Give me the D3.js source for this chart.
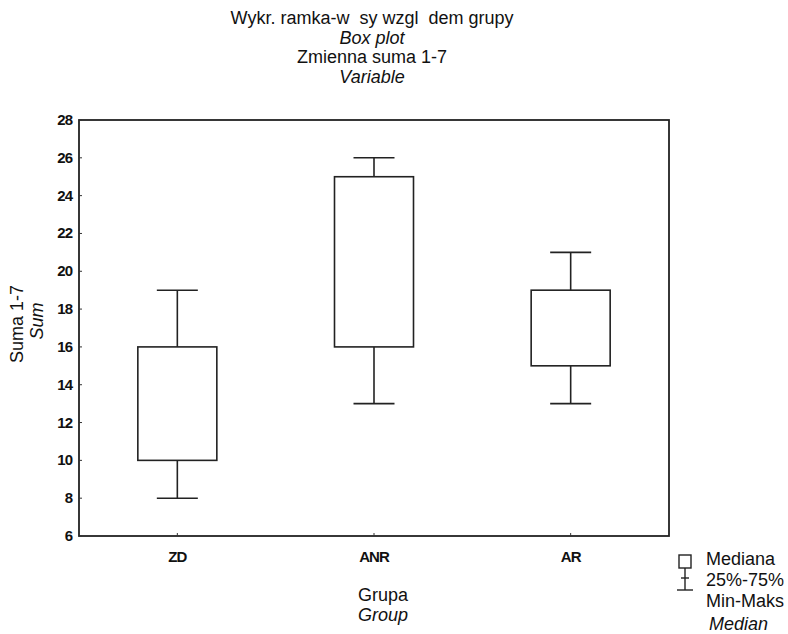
<!DOCTYPE html>
<html lang="pl">
<head>
  <meta charset="UTF-8">
  <title>Box plot</title>
  <style>
    body {
      margin: 0;
      background-color: white;
      font-family: Arial, "Liberation Sans", sans-serif;
    }
    text {
      white-space: pre;
      fill: #111;
    }
    .tick-label {
      font-size: 15px;
      font-weight: bold;
      letter-spacing: -1px;
    }
    .lbl {
      font-size: 18px;
    }
    .it {
      font-style: italic;
    }
  </style>
</head>
<body>
  <svg id="chart" width="788" height="634"></svg>

  <script src="https://d3js.org/d3.v7.min.js"></script>
  <script>
    var groups = ["ZD", "ANR", "AR"];
    var minVals = [8, 13, 13];
    var q1Vals = [10, 16, 15];
    var q3Vals = [16, 25, 19];
    var maxVals = [19, 26, 21];
    var yTicks = [6, 8, 10, 12, 14, 16, 18, 20, 22, 24, 26, 28];

    var titleLines = [
      { t: "Wykr. ramka-w  sy wzgl  dem grupy", it: false },
      { t: "Box plot", it: true },
      { t: "Zmienna suma 1-7", it: false },
      { t: "Variable", it: true }
    ];
    var legendLines = ["Mediana", "25%-75%", "Min-Maks"];

    var svg = d3.select("#chart");

    // plot area (frame)
    var pLeft = 79, pRight = 669, pTop = 120, pBottom = 536;

    var x = d3.scaleBand()
      .domain(groups)
      .range([pLeft, pRight]);

    var y = d3.scaleLinear()
      .domain([6, 28])
      .range([pBottom, pTop]);

    var boxW = 79;
    var capW = 41;

    function cx(d) { return x(d) + x.bandwidth() / 2; }

    svg.append("rect")
      .attr("x", pLeft)
      .attr("y", pTop)
      .attr("width", pRight - pLeft)
      .attr("height", pBottom - pTop)
      .attr("fill", "none")
      .attr("stroke", "#222")
      .attr("stroke-width", 1.8);

    // y ticks, pointing inward
    svg.selectAll(".ytick")
      .data(yTicks)
      .enter().append("line")
      .attr("class", "ytick")
      .attr("x1", pLeft)
      .attr("x2", pLeft + 3)
      .attr("y1", function(d) { return y(d); })
      .attr("y2", function(d) { return y(d); })
      .attr("stroke", "#333")
      .attr("stroke-width", 1);

    svg.selectAll(".ylab")
      .data(yTicks)
      .enter().append("text")
      .attr("class", "tick-label")
      .attr("x", 72)
      .attr("y", function(d) { return y(d) + 5; })
      .attr("text-anchor", "end")
      .text(function(d) { return d; });

    svg.selectAll(".xtick")
      .data(groups)
      .enter().append("line")
      .attr("x1", cx)
      .attr("x2", cx)
      .attr("y1", pBottom)
      .attr("y2", pBottom - 3)
      .attr("stroke", "#333");

    svg.selectAll(".xlab")
      .data(groups)
      .enter().append("text")
      .attr("class", "tick-label")
      .attr("x", cx)
      .attr("y", 562)
      .attr("text-anchor", "middle")
      .text(function(d) { return d; });

    // boxes and whiskers
    var box = svg.selectAll(".box")
      .data(groups)
      .enter().append("g")
      .attr("class", "box")
      .attr("stroke", "#222")
      .attr("stroke-width", 1.6)
      .attr("fill", "none");

    box.append("line")
      .attr("x1", cx)
      .attr("x2", cx)
      .attr("y1", function(d, i) { return y(maxVals[i]); })
      .attr("y2", function(d, i) { return y(q3Vals[i]); });

    box.append("line")
      .attr("x1", cx)
      .attr("x2", cx)
      .attr("y1", function(d, i) { return y(q1Vals[i]); })
      .attr("y2", function(d, i) { return y(minVals[i]); });

    box.append("line")
      .attr("x1", function(d) { return cx(d) - capW / 2; })
      .attr("x2", function(d) { return cx(d) + capW / 2; })
      .attr("y1", function(d, i) { return y(maxVals[i]); })
      .attr("y2", function(d, i) { return y(maxVals[i]); });

    box.append("line")
      .attr("x1", function(d) { return cx(d) - capW / 2; })
      .attr("x2", function(d) { return cx(d) + capW / 2; })
      .attr("y1", function(d, i) { return y(minVals[i]); })
      .attr("y2", function(d, i) { return y(minVals[i]); });

    box.append("rect")
      .attr("x", function(d) { return cx(d) - boxW / 2; })
      .attr("y", function(d, i) { return y(q3Vals[i]); })
      .attr("width", boxW)
      .attr("height", function(d, i) { return y(q1Vals[i]) - y(q3Vals[i]); });

    // title
    svg.selectAll(".title")
      .data(titleLines)
      .enter().append("text")
      .attr("class", function(d) { return d.it ? "lbl it" : "lbl"; })
      .attr("x", 372)
      .attr("y", function(d, i) { return 24 + i * 19.5; })
      .attr("text-anchor", "middle")
      .text(function(d) { return d.t; });

    // axis titles
    svg.append("text")
      .attr("class", "lbl")
      .attr("transform", "translate(23,324) rotate(-90)")
      .attr("text-anchor", "middle")
      .text("Suma 1-7");
    svg.append("text")
      .attr("class", "lbl it")
      .attr("transform", "translate(43,321) rotate(-90)")
      .attr("text-anchor", "middle")
      .text("Sum");

    svg.append("text")
      .attr("class", "lbl")
      .attr("x", 383)
      .attr("y", 601)
      .attr("text-anchor", "middle")
      .text("Grupa");
    svg.append("text")
      .attr("class", "lbl it")
      .attr("x", 383)
      .attr("y", 621)
      .attr("text-anchor", "middle")
      .text("Group");

    // legend
    var lg = svg.append("g")
      .attr("stroke", "#222")
      .attr("stroke-width", 1.4)
      .attr("fill", "none");
    lg.append("rect").attr("x", 679).attr("y", 555).attr("width", 12).attr("height", 13);
    lg.append("line").attr("x1", 685).attr("x2", 685).attr("y1", 568).attr("y2", 590);
    lg.append("line").attr("x1", 681).attr("x2", 689).attr("y1", 578).attr("y2", 578);
    lg.append("line").attr("x1", 677).attr("x2", 693).attr("y1", 590).attr("y2", 590);

    svg.selectAll(".leg")
      .data(legendLines)
      .enter().append("text")
      .attr("class", "lbl")
      .attr("x", 706)
      .attr("y", function(d, i) { return 565 + i * 21; })
      .text(function(d) { return d; });

    svg.append("text")
      .attr("class", "lbl it")
      .attr("x", 709)
      .attr("y", 630)
      .text("Median");
  </script>
</body>
</html>
